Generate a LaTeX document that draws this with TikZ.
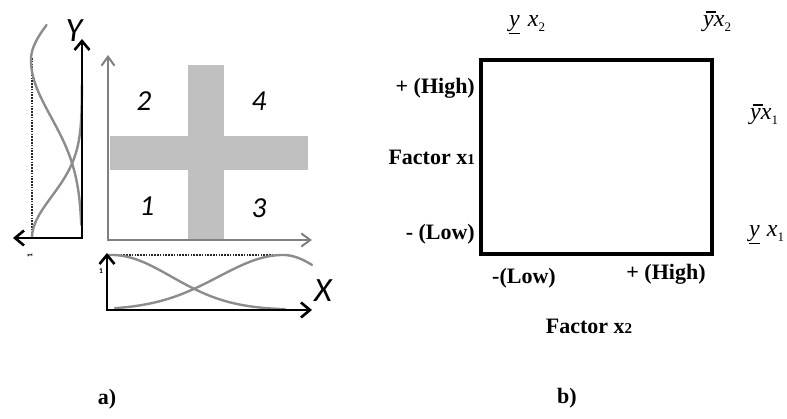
\documentclass[tikz,border=0pt]{standalone}
\usepackage{fontspec}
\setmainfont{Liberation Serif}
\newfontfamily\calib{Carlito}
\usetikzlibrary{arrows.meta}
\definecolor{axgrey}{RGB}{128,128,128}
\definecolor{crossgrey}{RGB}{192,192,192}
\definecolor{curvegrey}{RGB}{140,140,140}
\newcommand{\ybarred}{\leavevmode\rlap{\hspace{0.1em}\raisebox{0.6em}{\rule{0.45em}{0.05em}}}y}
\newcommand{\sbs}[1]{\raisebox{-5pt}{\upshape\fontsize{13}{13}\selectfont #1}}
\begin{document}
\begin{tikzpicture}[x=1pt,y=-1pt,
  declare function={g(\t,\c,\w)=exp(-((\t-\c)/\w)*((\t-\c)/\w));},
  blackaxis/.style={line width=2.6pt, black, {Straight Barb[length=9pt,width=15pt]}-{Straight Barb[length=9pt,width=15pt]}},
  greyaxis/.style={line width=2pt, axgrey, {Straight Barb[length=9pt,width=13pt]}-{Straight Barb[length=9pt,width=13pt]}},
  curve/.style={line width=2.4pt, curvegrey, line cap=round},
  dotline/.style={line width=1.8pt, black!85, dash pattern=on 1.6pt off 1.2pt},
  digit/.style={font=\calib\itshape\fontsize{29}{31}\selectfont, inner sep=0pt},
  axlbl/.style={font=\calib\itshape\fontsize{34}{36}\selectfont, inner sep=0pt},
  tinylbl/.style={font=\calib\bfseries\fontsize{7.5}{8}\selectfont, inner sep=0pt},
  boldlbl/.style={font=\fontsize{22}{24}\selectfont\bfseries, inner sep=0pt},
  itlbl/.style={font=\fontsize{24}{26}\selectfont\itshape, inner sep=0pt}
]
\useasboundingbox (0,0) rectangle (787,419);

% ---------- a) ----------
% cross
\fill[crossgrey] (188,65) rectangle (224,240);
\fill[crossgrey] (110,136) rectangle (308,170);
% main grey axes
\draw[greyaxis] (108,55) -- (108,240) -- (312,240);
% quadrant numbers
\node[digit] (q2) at (144,101) {2};
\node[digit] (q4) at (259,101) {4};
\node[digit] (q1) at (147,206) {1};
\node[digit] (q3) at (259,208) {3};

% left chart
\draw[dotline] (32,58) -- (32,238);
\draw[curve] plot[variable=\t, domain=25:60, samples=30] ({82-51*g(\t,60,58)}, \t);
\draw[curve] plot[variable=\t, domain=60:225, samples=60] ({82-51*g(\t,60,80.7)}, \t);
\draw[curve] plot[variable=\t, domain=85:238, samples=60] ({82-50*g(\t,238,58.7)}, \t);
\draw[blackaxis] (82,39) -- (82,238) -- (13,238);
\node[axlbl] (ylbl) at (74,31) {Y};
\node[tinylbl, rotate=90] (one2) at (30,256) {1};

% bottom chart
\draw[dotline] (115,255) -- (287,255);
\draw[curve] plot[domain=109:285, samples=60] (\x, {310-55*g(\x,112,84)});
\draw[curve] plot[domain=115:283, samples=60] (\x, {310-55*g(\x,283,91)});
\draw[curve] plot[domain=283:312, samples=20] (\x, {310-55*g(\x,283,65)});
\draw[blackaxis] (107,253) -- (107,310) -- (312,310);
\node[axlbl] (xlbl) at (323,291) {X};
\node[tinylbl] (one1) at (101,271) {1};

\node[boldlbl] (la) at (107,399) {a)};

% ---------- b) ----------
\draw[line width=4pt] (481,60) rectangle (712,254);
\node[boldlbl, anchor=east] (hi1) at (475,88) {+ (High)};
\node[boldlbl, anchor=east] (fx1) at (475,157) {Factor x{\fontsize{15}{15}\selectfont 1}};
\node[boldlbl, anchor=east] (lo1) at (475,234) {- (Low)};
\node[boldlbl] (lo2) at (524,278) {-(Low)};
\node[boldlbl] (hi2) at (666,274) {+ (High)};
\node[boldlbl] (fx2) at (589,326) {Factor x{\fontsize{15}{15}\selectfont 2}};
\node[boldlbl] (lb) at (567,398) {b)};

\node[itlbl, anchor=base west] (t1) at (509,27) {\underline{y}\hspace{8pt}x\sbs{2}};
\node[itlbl, anchor=base west] (t2) at (703,27) {\ybarred x\sbs{2}};
\node[itlbl, anchor=base west] (r1) at (750,120) {\ybarred x\sbs{1}};
\node[itlbl, anchor=base west] (r2) at (749,237) {\underline{y}\hspace{7pt}x\sbs{1}};
\end{tikzpicture}
\end{document}
